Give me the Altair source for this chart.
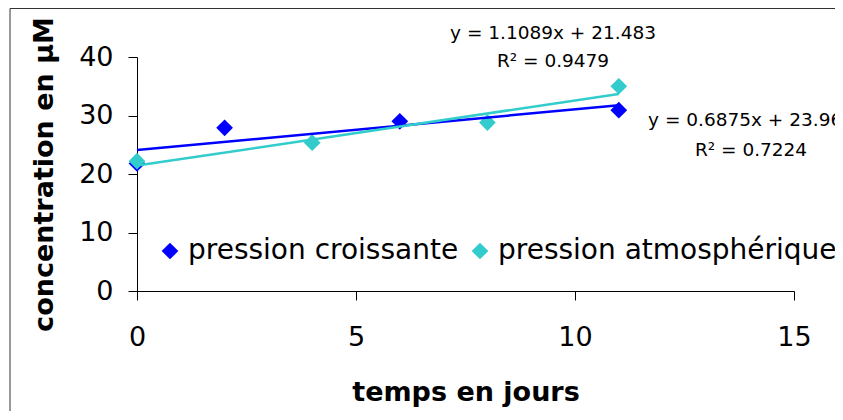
import altair as alt
import pandas as pd

# --- data ---
series_names = ["pression croissante", "pression atmosphérique"]
series_colors = ["#0000FF", "#33CCCC"]

days_croissante = [0, 2, 6, 11]
conc_croissante = [21.8, 27.9, 29.0, 30.9]

days_atm = [0, 4, 8, 11]
conc_atm = [22.2, 25.35, 28.8, 35.0]

eq_labels = ["y = 1.1089x + 21.483", "R² = 0.9479",
             "y = 0.6875x + 23.964", "R² = 0.7224"]

x_ticks = [0, 5, 10, 15]
y_ticks = [0, 10, 20, 30, 40]

rows = []
for d, c in zip(days_croissante, conc_croissante):
    rows.append({"jour": d, "conc": c, "serie": series_names[0]})
for d, c in zip(days_atm, conc_atm):
    rows.append({"jour": d, "conc": c, "serie": series_names[1]})
df = pd.DataFrame(rows)

FONT = "DejaVu Sans"

color_scale = alt.Scale(domain=series_names, range=series_colors)

legend_def = alt.Legend(
    title=None, orient="none", direction="horizontal",
    legendX=19, legendY=180, padding=0,
    symbolType="diamond", symbolSize=280, symbolStrokeWidth=0,
    labelFont=FONT, labelFontSize=28, labelColor="black",
    labelOffset=4, columnPadding=7, labelLimit=600,
)

x_enc = alt.X(
    "jour:Q",
    scale=alt.Scale(domain=[0, 15], nice=False),
    axis=alt.Axis(
        values=x_ticks, title="temps en jours", grid=False,
        labelFont=FONT, labelFontSize=27, labelColor="black", labelFlush=False,
        labelPadding=24, tickSize=9, tickColor="black", domainColor="black",
        titleFont=FONT, titleFontSize=27, titleFontWeight="bold", titleColor="black",
        titleBaseline="alphabetic", titleX=328.5, titleY=109,
    ),
)
y_enc = alt.Y(
    "conc:Q",
    scale=alt.Scale(domain=[0, 40], nice=False),
    axis=alt.Axis(
        values=y_ticks, title="concentration en µM", grid=False,
        labelFont=FONT, labelFontSize=27, labelColor="black", labelFlush=False,
        labelPadding=15, tickSize=9, tickColor="black", domainColor="black",
        titleFont=FONT, titleFontSize=27, titleFontWeight="bold", titleColor="black",
        titleAngle=270, titleAlign="center", titleBaseline="alphabetic",
        titleX=-85, titleY=117,
    ),
)

base = alt.Chart(df)

points = base.mark_point(shape="diamond", filled=True, size=280, opacity=1).encode(
    x=x_enc,
    y=y_enc,
    color=alt.Color("serie:N", scale=color_scale, sort=series_names, legend=legend_def),
    order=alt.Order("serie:N", sort="descending"),
)

lines = base.transform_regression(
    "jour", "conc", groupby=["serie"]
).mark_line(strokeWidth=2.5, clip=False).encode(
    x=alt.X("jour:Q"),
    y=alt.Y("conc:Q"),
    color=alt.Color("serie:N", scale=color_scale, sort=series_names, legend=legend_def),
)

ann_df = pd.DataFrame({"txt": eq_labels, "k": [0, 1, 2, 3]})
ann_pos_x = {0: 416, 1: 416, 2: 614, 3: 614}
ann_pos_y = {0: -24, 1: 4, 2: 63, 3: 93}
ann_layers = []
for k, t in enumerate(eq_labels):
    ann_layers.append(
        alt.Chart(ann_df[ann_df["k"] == k]).mark_text(
            font=FONT, fontSize=18.5, color="black", align="center", baseline="middle"
        ).encode(text="txt:N", x=alt.value(ann_pos_x[k]), y=alt.value(ann_pos_y[k]))
    )

# outer chart frame (decoration)
frame_top = alt.Chart(ann_df.head(1)).mark_rule(color="#333333", strokeWidth=1).encode(
    x=alt.value(-127), x2=alt.value(760), y=alt.value(-48.5)
)
frame_left = alt.Chart(ann_df.head(1)).mark_rule(color="#333333", strokeWidth=1).encode(
    x=alt.value(-127), y=alt.value(-48.5), y2=alt.value(400)
)

chart = alt.layer(points, lines, frame_top, frame_left, *ann_layers).properties(
    width=657, height=234,
    background="white",
    view=alt.ViewBackground(stroke="transparent", strokeWidth=0),
    padding={"left": 129, "top": 49, "right": 41, "bottom": 120},
    autosize=alt.AutoSizeParams(type="none"),
).configure_view(stroke="transparent", strokeWidth=0)

chart.save("out.html", embed_options={"renderer": "svg", "actions": False})
